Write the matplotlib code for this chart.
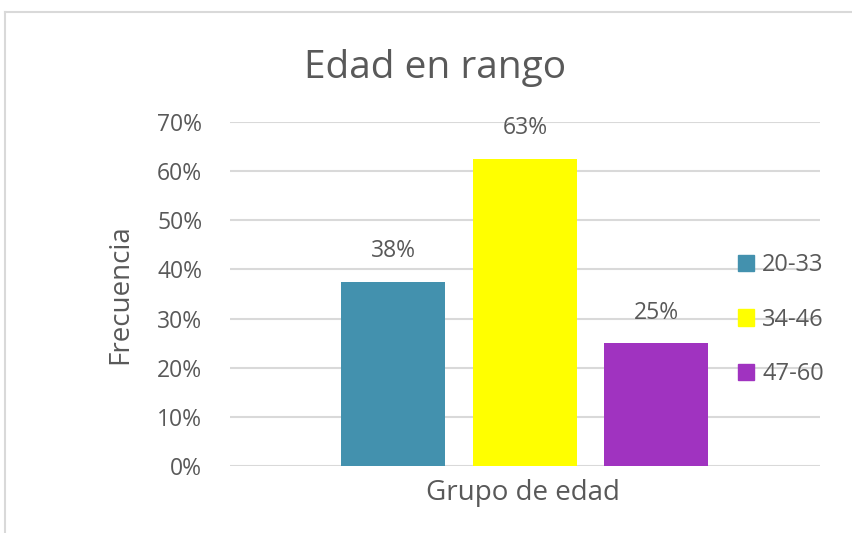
import matplotlib.pyplot as plt
from matplotlib.lines import Line2D
from matplotlib.patches import Patch

plt.rcParams['font.family'] = ['Open Sans', 'DejaVu Sans']

grupos = ['20-33', '34-46', '47-60']
frecuencia = [0.375, 0.625, 0.25]
etiquetas = ['38%', '63%', '25%']
colores = ['#4391AE', '#FFFF00', '#A033C0']
yticks = [0, 0.1, 0.2, 0.3, 0.4, 0.5, 0.6, 0.7]

gris = '#595959'

fig = plt.figure(figsize=(8.52, 5.33), dpi=100)
ax = fig.add_axes([0.270, 0.126, 0.692, 0.645])

ancho = 0.176
paso = 0.223
for i, (g, v, lab, c) in enumerate(zip(grupos, frecuencia, etiquetas, colores)):
    x = 0.5 + (i - 1) * paso
    ax.bar(x, v, width=ancho, color=c, zorder=3, label=g)
    ax.annotate(lab, (x, v), xytext=(0, 22), textcoords='offset points',
                ha='center', va='center', fontsize=16.5, color=gris)

ax.set_xlim(0, 1)
ax.set_ylim(0, 0.7)
ax.set_yticks(yticks)
ax.set_yticklabels([f'{int(round(t * 100))}%' for t in yticks])
ax.set_xticks([])
ax.grid(axis='y', color='#D9D9D9', linewidth=1.5, zorder=0)
for s in ax.spines.values():
    s.set_visible(False)
ax.tick_params(axis='y', length=0, pad=20, labelsize=16.5, labelcolor=gris)

fig.text(120 / 852, 1 - 294 / 533, 'Frecuencia', rotation=90, ha='center',
         va='center', fontsize=20, color=gris)
fig.text(523 / 852, 1 - 493 / 533, 'Grupo de edad', ha='center',
         va='center', fontsize=20, color=gris)
fig.text(0.511, 1 - 68 / 533, 'Edad en rango', ha='center', va='center',
         fontsize=28, color=gris)

handles = [Patch(color=c) for c in colores]
fig.legend(handles, grupos, loc='center left', bbox_to_anchor=(0.866, 0.40),
           frameon=False, fontsize=17, labelcolor=gris, handlelength=0.68,
           handleheight=0.68, handletextpad=0.35, labelspacing=1.3,
           borderpad=0, borderaxespad=0)

# marco del grafico
fig.add_artist(Line2D([0.006, 1.0], [0.978, 0.978], color='#D9D9D9', lw=1.5))
fig.add_artist(Line2D([0.006, 0.006], [0.0, 0.978], color='#D9D9D9', lw=1.5))

fig.savefig('out.png', dpi=100)
